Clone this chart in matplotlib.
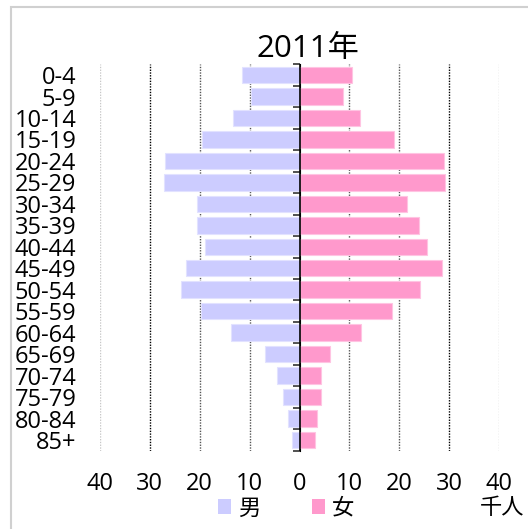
import matplotlib.pyplot as plt
from matplotlib.patches import Patch, Rectangle
from matplotlib.ticker import FuncFormatter
import numpy as np

plt.rcParams['font.family'] = ['Open Sans', 'Noto Sans CJK JP', 'DejaVu Sans']

# data (thousand people)
age_groups = ["0-4", "5-9", "10-14", "15-19", "20-24", "25-29", "30-34", "35-39",
              "40-44", "45-49", "50-54", "55-59", "60-64", "65-69", "70-74",
              "75-79", "80-84", "85+"]
male = [11.6, 9.7, 13.3, 19.6, 27.0, 27.1, 20.6, 20.5, 19.0, 22.8, 23.8, 19.7,
        13.8, 6.9, 4.5, 3.4, 2.4, 1.5]
female = [10.6, 8.8, 12.2, 19.0, 29.0, 29.2, 21.6, 24.0, 25.6, 28.5, 24.2, 18.6,
          12.3, 6.2, 4.3, 4.3, 3.5, 3.1]
xticks = [-40, -30, -20, -10, 0, 10, 20, 30, 40]
title = "2011年"
unit = "千人"

male_color = "#ccccff"
female_color = "#ff99cc"

W, H = 528, 529
fig = plt.figure(figsize=(W / 100, H / 100), dpi=100)
ax = fig.add_axes([100 / W, 1 - 450.7 / H, 399 / W, (450.7 - 64.3) / H])

# outer frame
fig.patches.append(Rectangle((11 / W, -0.05), 1.1, 1 - 7 / H + 0.05,
                             transform=fig.transFigure, fill=False,
                             edgecolor="#d0d0d0", linewidth=1.5))

y = np.arange(len(age_groups))
ax.barh(y, [-v for v in male], height=0.77, color=male_color,
        edgecolor="#e2e2ff", linewidth=0.8, zorder=2)
ax.barh(y, female, height=0.77, color=female_color,
        edgecolor="#ffc4e2", linewidth=0.8, zorder=2)

# vertical gridlines
for t in xticks:
    if t == 0:
        continue
    if abs(t) == 40:
        c = "#c8c8c8"
    elif abs(t) == 30:
        c = "#000000"
    else:
        c = "#555555"
    ax.axvline(t, color=c, linewidth=1, linestyle=(0, (1, 1)), zorder=1)

ax.axvline(0, color="black", linewidth=1.2, zorder=3)

ax.set_xlim(-40, 40)
ax.set_ylim(len(age_groups) - 0.5, -0.5)
ax.set_yticks(y)
ax.set_yticklabels(age_groups, fontsize=17)
ax.tick_params(axis="y", length=0, pad=17)
ax.set_xticks(xticks)
ax.xaxis.set_major_formatter(FuncFormatter(lambda v, p: f"{abs(int(v))}"))
ax.tick_params(axis="x", length=0, pad=15, labelsize=17)
for s in ax.spines.values():
    s.set_visible(False)

# boundary ticks on the centre line
sec = ax.secondary_yaxis(0.5)
sec.set_yticks(np.arange(-0.5, len(age_groups), 1.0))
sec.set_yticklabels([])
sec.tick_params(axis="y", direction="in", length=5, width=1.2, color="#333333")
sec.spines["left"].set_visible(False)

fig.text(308 / W, 1 - 57 / H, title, fontsize=22.5, ha="center", va="baseline")

handles = [Patch(facecolor=male_color, edgecolor="none"),
           Patch(facecolor=female_color, edgecolor="none")]
fig.legend(handles, ["男", "女"], loc="center left",
           bbox_to_anchor=(218 / W, 1 - 509 / H), ncol=2, frameon=False,
           fontsize=16, handlelength=0.6, handleheight=0.64,
           handletextpad=0.32, columnspacing=2.3, borderpad=0,
           borderaxespad=0)
fig.text(480 / W, 1 - 509 / H, unit, fontsize=16, ha="left", va="center")

fig.savefig("out.png", dpi=100)
